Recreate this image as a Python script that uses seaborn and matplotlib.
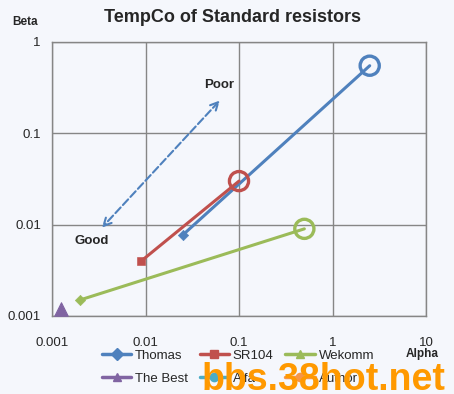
import pandas as pd
import matplotlib
matplotlib.use("Agg")
import matplotlib.pyplot as plt
from matplotlib.lines import Line2D
from matplotlib.ticker import FixedLocator, FixedFormatter, NullLocator
import seaborn as sns

# series (alpha, beta) - start point and end point
series_names = ["Thomas", "SR104", "Wekomm"]
alpha_start = [0.025, 0.009, 0.002]
beta_start = [0.0077, 0.004, 0.0015]
alpha_end = [2.5, 0.1, 0.5]
beta_end = [0.55, 0.03, 0.009]

best_alpha = [0.00125]
best_beta = [0.0012]

legend_names = ["Thomas", "SR104", "Wekomm", "The Best", "Alfa", "Author"]
colors = ["#4F81BD", "#C0504D", "#9BBB59", "#8064A2", "#4BACC6", "#F79646"]
start_markers = ["D", "s", "D"]
legend_markers = ["D", "s", "^", "^", "o", "o"]

decades = [0.001, 0.01, 0.1, 1, 10]
x_tick_labels = ["0.001", "0.01", "0.1", "1", "10"]
y_ticks = [0.001, 0.01, 0.1, 1]
y_tick_labels = ["0.001", "0.01", "0.1", "1"]

rows = []
for i, name in enumerate(series_names):
    rows.append({"series": name, "alpha": alpha_start[i], "beta": beta_start[i], "pt": "start"})
    rows.append({"series": name, "alpha": alpha_end[i], "beta": beta_end[i], "pt": "end"})
df = pd.DataFrame(rows)
palette = dict(zip(series_names, colors[:3]))

sns.set_theme(style="white")
plt.rcParams['font.family'] = ['Liberation Sans', 'DejaVu Sans']

bg = "#f5f7fc"
fig = plt.figure(figsize=(4.54, 3.94), dpi=100, facecolor=bg)
ax = fig.add_axes([52/454, 1-316/394, 374/454, 274/394], facecolor=bg)

sns.lineplot(data=df, x="alpha", y="beta", hue="series", palette=palette,
             estimator=None, sort=False, linewidth=2.2, legend=False, ax=ax)

for i, name in enumerate(series_names):
    sub = df[(df["series"] == name) & (df["pt"] == "start")]
    sns.scatterplot(data=sub, x="alpha", y="beta", color=colors[i],
                    marker=start_markers[i], s=28, edgecolor=colors[i],
                    legend=False, ax=ax, zorder=3)
    end = df[(df["series"] == name) & (df["pt"] == "end")]
    sns.scatterplot(data=end, x="alpha", y="beta", s=190, facecolor="none",
                    edgecolor=colors[i], linewidth=2.4, legend=False, ax=ax, zorder=3)

sns.scatterplot(x=best_alpha, y=best_beta, marker="^", s=95, color=colors[3],
                edgecolor=colors[3], legend=False, ax=ax, zorder=3, clip_on=False)

ax.set_xscale("log")
ax.set_yscale("log")
ax.set_xlim(0.001, 10)
ax.set_ylim(0.001, 1)
ax.xaxis.set_major_locator(FixedLocator(decades))
ax.xaxis.set_major_formatter(FixedFormatter(x_tick_labels))
ax.yaxis.set_major_locator(FixedLocator(y_ticks))
ax.yaxis.set_major_formatter(FixedFormatter(y_tick_labels))
ax.xaxis.set_minor_locator(NullLocator())
ax.yaxis.set_minor_locator(NullLocator())
ax.grid(True, color="#868686", linewidth=1)
for sp in ax.spines.values():
    sp.set_color("#868686")
    sp.set_linewidth(1)
ax.tick_params(axis="both", which="major", direction="out", length=5,
               color="#868686", labelsize=9.5, pad=3)
ax.tick_params(axis="x", pad=10)
ax.set_xlabel("")
ax.set_ylabel("")

# good / poor arrow
ax.annotate("", xy=(0.00326, 0.0088), xytext=(0.0653, 0.241),
            arrowprops=dict(arrowstyle="<->", color="#4F81BD", linestyle="--",
                            linewidth=1.5, mutation_scale=14))

fig.text(219/454, 1-85/394, "Poor", ha="center", va="center", fontsize=9.5, fontweight="bold")
fig.text(92/454, 1-241/394, "Good", ha="center", va="center", fontsize=9.5, fontweight="bold")

fig.text(233/454, 1-18/394, "TempCo of Standard resistors", ha="center", va="center",
         fontsize=13, fontweight="bold")
fig.text(25/454, 1-22/394, "Beta", ha="center", va="center", fontsize=8.5, fontweight="bold")
fig.text(422/454, 1-354/394, "Alpha", ha="center", va="center", fontsize=8.5, fontweight="bold")

# legend filled row by row like the original (matplotlib fills by column)
handles = [Line2D([0], [0], color=c, marker=m, markersize=6, linewidth=2.5)
           for c, m in zip(colors, legend_markers)]
order = [0, 3, 1, 4, 2, 5]
fig.legend([handles[k] for k in order], [legend_names[k] for k in order],
           loc="center", bbox_to_anchor=(238/454, 1-367/394),
           ncol=3, frameon=False, fontsize=9.5, handlelength=2.2, columnspacing=0.9,
           handletextpad=0.3, labelspacing=0.8)

fig.text(323/454, 1-390/394, "bbs.38hot.net", ha="center", va="baseline", fontsize=27,
         fontweight="bold", color="#FF9900", zorder=10)

fig.savefig("out.png", dpi=100, facecolor=bg)
